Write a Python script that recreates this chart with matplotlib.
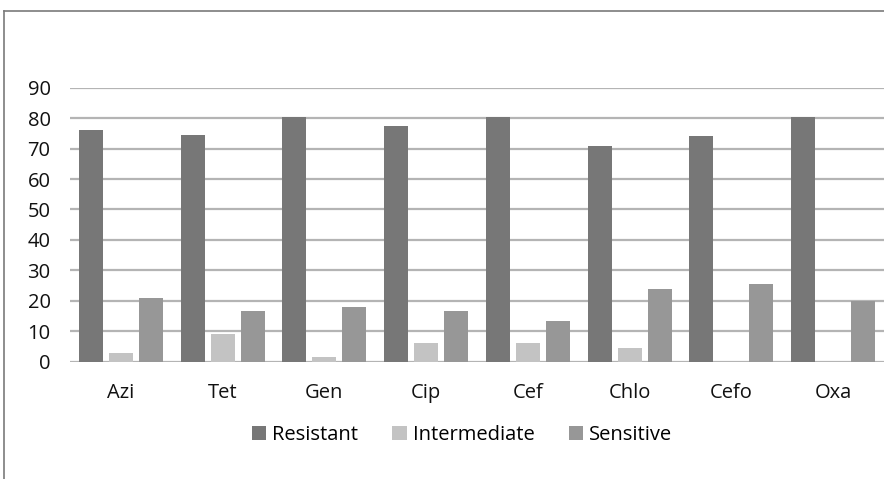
import matplotlib.pyplot as plt
import numpy as np
from matplotlib.lines import Line2D

drugs = ["Azi", "Tet", "Gen", "Cip", "Cef", "Chlo", "Cefo", "Oxa"]
resistant = [76, 74.5, 80.5, 77.5, 80.5, 71, 74, 80.5]
intermediate = [3, 9, 1.5, 6, 6, 4.5, 0, 0]
sensitive = [21, 16.5, 18, 16.5, 13.5, 24, 25.5, 20]

plt.rcParams["font.family"] = ["Open Sans", "DejaVu Sans"]

fig = plt.figure(figsize=(8.84, 4.79), dpi=100)
ax = fig.add_axes([70 / 884, 1 - 361.7 / 479, 814 / 884, (361.7 - 87.7) / 479])

x = np.arange(len(drugs))
w = 0.236
step = 0.295
ax.bar(x - step, resistant, w, color="#777777", label="Resistant", zorder=3)
ax.bar(x, intermediate, w, color="#c3c3c3", label="Intermediate", zorder=3)
ax.bar(x + step, sensitive, w, color="#979797", label="Sensitive", zorder=3)

ax.set_xlim(-0.5, len(drugs) - 0.5)
ax.set_ylim(0, 90)
ax.set_yticks(range(0, 91, 10))
ax.set_xticks(x)
ax.set_xticklabels(drugs)
ax.yaxis.grid(True, color="#b4b4b4", linewidth=1.6, zorder=0)
ax.tick_params(axis="both", length=0, labelsize=14.5, colors="#111111")
ax.tick_params(axis="x", pad=15)
ax.tick_params(axis="y", pad=14)
for s in ax.spines.values():
    s.set_visible(False)

ax.legend(loc="center", bbox_to_anchor=(462 / 884, 1 - 435 / 479), bbox_transform=fig.transFigure,
          ncol=3, frameon=False, fontsize=14.5, handlelength=0.7, handleheight=0.7,
          handletextpad=0.3, columnspacing=1.7)

# chart frame (left and top border)
fig.add_artist(Line2D([4 / 884, 4 / 884], [0, 1 - 11 / 479], color="#7a7a7a", linewidth=1.2))
fig.add_artist(Line2D([4 / 884, 1], [1 - 11 / 479, 1 - 11 / 479], color="#7a7a7a", linewidth=1.2))

fig.savefig("out.png", dpi=100)
